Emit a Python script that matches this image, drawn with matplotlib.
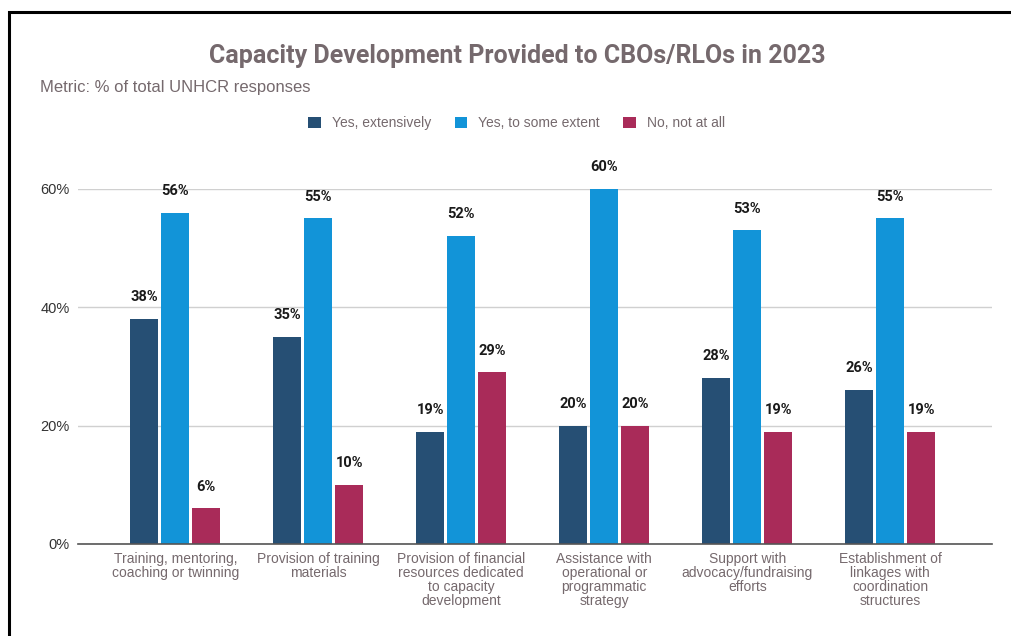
import numpy as np
import matplotlib.pyplot as plt
from matplotlib.patches import Rectangle

plt.rcParams["font.family"] = ["Liberation Sans", "DejaVu Sans"]

# --- Data ---
categories = [
    "Training, mentoring,\ncoaching or twinning",
    "Provision of training\nmaterials",
    "Provision of financial\nresources dedicated\nto capacity\ndevelopment",
    "Assistance with\noperational or\nprogrammatic\nstrategy",
    "Support with\nadvocacy/fundraising\nefforts",
    "Establishment of\nlinkages with\ncoordination\nstructures",
]
series_names = ["Yes, extensively", "Yes, to some extent", "No, not at all"]
yes_extensively = [38, 35, 19, 20, 28, 26]
yes_some_extent = [56, 55, 52, 60, 53, 55]
no_not_at_all = [6, 10, 29, 20, 19, 19]
y_ticks = [0, 20, 40, 60]

colors = ["#264f74", "#1294d8", "#a92b59"]
text_grey = "#75696d"

fig = plt.figure(figsize=(10.11, 6.36), dpi=100)
ax = fig.add_axes([0.0772, 0.1447, 0.9038, 0.5583])

x = np.arange(len(categories))
width = 0.196
step = 0.217
for i, (vals, name, col) in enumerate(zip([yes_extensively, yes_some_extent, no_not_at_all],
                                          series_names, colors)):
    pos = x + (i - 1) * step
    ax.bar(pos, vals, width=width, color=col, label=name, zorder=3)
    for px, v in zip(pos, vals):
        ax.text(px, v + 2.5, f"{v}%", ha="center", va="bottom", fontsize=10.5,
                fontweight="bold", color="#1a1a1a", family="Roboto", clip_on=False)

ax.set_xlim(-0.68, 5.71)
ax.set_ylim(0, 60)
ax.set_yticks(y_ticks)
ax.set_yticklabels([f"{t}%" for t in y_ticks], fontsize=10.5, color="#333333")
ax.set_xticks(x)
ax.set_xticklabels(categories, fontsize=10, color=text_grey, linespacing=1.0)
ax.tick_params(axis="y", length=0, pad=6)
ax.tick_params(axis="x", length=0, pad=6)

ax.grid(axis="y", color="#d0d0d0", linewidth=1.0, zorder=0)
for s in ["top", "right", "left"]:
    ax.spines[s].set_visible(False)
ax.spines["bottom"].set_color("#555555")
ax.spines["bottom"].set_linewidth(1.2)
ax.spines["bottom"].set_zorder(4)

# title, subtitle, legend
fig.text(0.512, 0.912, "Capacity Development Provided to CBOs/RLOs in 2023",
         ha="center", va="center", fontsize=18, fontweight="bold", color=text_grey,
         family="Roboto")
fig.text(0.040, 0.863, "Metric: % of total UNHCR responses", ha="left", va="center",
         fontsize=12, color=text_grey)
leg = fig.legend(loc="center", bbox_to_anchor=(0.511, 0.806), ncol=3, frameon=False,
                 fontsize=10, handlelength=0.9, handleheight=0.9, columnspacing=1.7,
                 handletextpad=0.8)
for t in leg.get_texts():
    t.set_color(text_grey)

# frame around the chart
fig.patches.append(Rectangle((8.5 / 1011, -0.05), 1.1, 0.05 + (636 - 12.5) / 636,
                             transform=fig.transFigure, fill=False,
                             edgecolor="black", linewidth=2.2))

fig.savefig("out.png", dpi=100)
